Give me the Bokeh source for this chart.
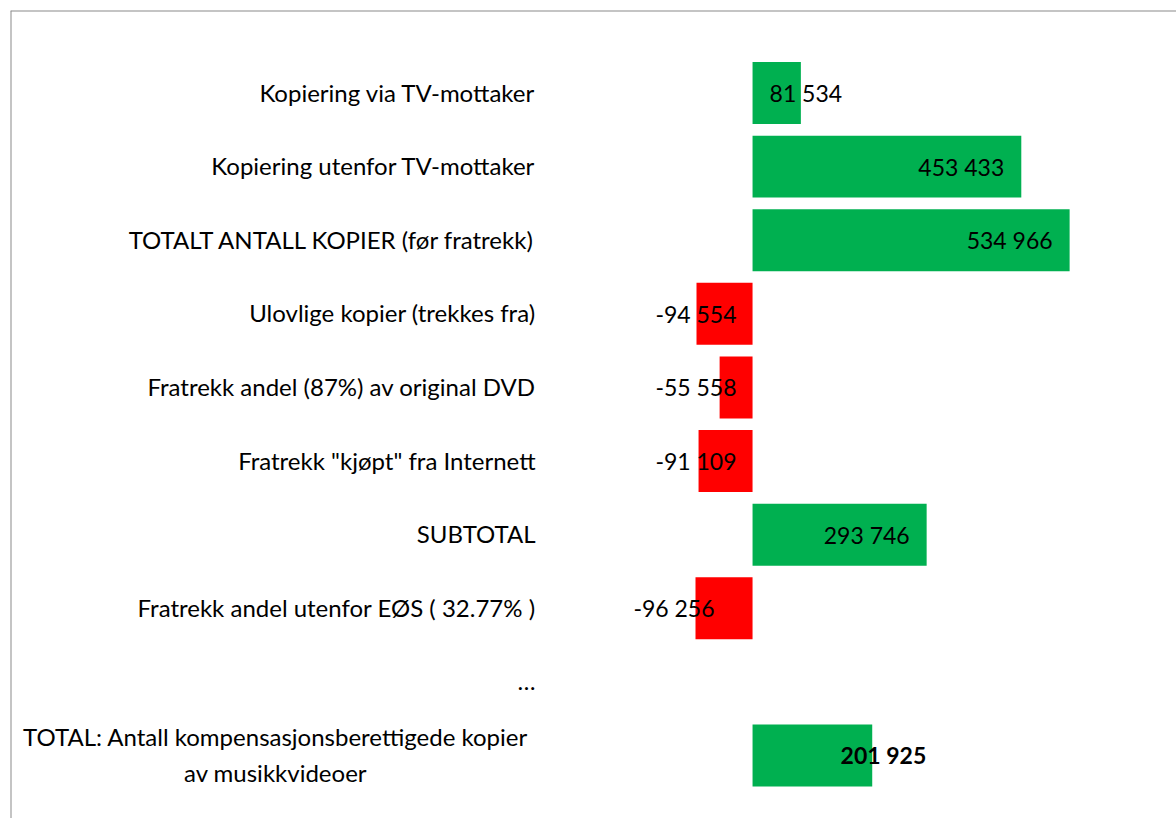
from bokeh.plotting import figure
from bokeh.models import ColumnDataSource, Range1d, Span
from bokeh.core.properties import value
from bokeh.embed import file_html
from bokeh.resources import INLINE

# ---- data ----
categories = [
    "Kopiering via TV-mottaker",
    "Kopiering utenfor TV-mottaker",
    "TOTALT ANTALL KOPIER (før fratrekk)",
    "Ulovlige kopier (trekkes fra)",
    "Fratrekk andel (87%) av original DVD",
    'Fratrekk "kjøpt" fra Internett',
    "SUBTOTAL",
    "Fratrekk andel utenfor EØS ( 32.77% )",
    "…",
    "TOTAL: Antall kompensasjonsberettigede kopier\nav musikkvideoer",
]
values = [81534, 453433, 534966, -94554, -55558, -91109, 293746, -96256, None, 201925]

# ---- styles ----
GREEN = "#00B050"
RED = "#FF0000"
BORDER = "#898989"
FONT = value("Lato")
FS_CAT = "24px"
FS_VAL = "23px"
X_START, X_END = -1252000, 715300
Y_BOTTOM, Y_TOP = 9.856, -1.121

def fmt(v):
    s = f"{abs(v):,}".replace(",", " ")
    return ("-" + s) if v < 0 else s

# label placement style per row: (anchor, align, pixel offset)
label_style = {
    0: ("zero", "left", 17),
    1: ("value", "right", -17),
    2: ("value", "right", -17),
    3: ("zero", "right", -16),
    4: ("zero", "right", -16),
    5: ("zero", "right", -16),
    6: ("value", "right", -17),
    7: ("zero", "right", -38),
    9: ("value", "right", 54),
}

p = figure(width=1176, height=818,
           x_range=Range1d(X_START, X_END),
           y_range=Range1d(Y_BOTTOM, Y_TOP),
           x_axis_type=None, y_axis_type=None,
           output_backend="svg", toolbar_location=None,
           min_border_left=10, min_border_top=10,
           min_border_right=0, min_border_bottom=0)
p.grid.visible = False
p.outline_line_color = None
p.background_fill_color = "white"
p.border_fill_color = "white"

# chart-area border (left and top edges only are visible)
p.add_layout(Span(location=X_START, dimension="height", line_color=BORDER, line_width=2))
p.add_layout(Span(location=Y_TOP, dimension="width", line_color=BORDER, line_width=2))

rows = [i for i, v in enumerate(values) if v is not None]
bar_src = ColumnDataSource(dict(
    y=rows,
    v=[values[i] for i in rows],
    c=[GREEN if values[i] >= 0 else RED for i in rows],
))
p.hbar(y="y", left=0, right="v", height=0.842, fill_color="c",
       line_color=None, source=bar_src)

# category labels
single = [i for i, c in enumerate(categories) if "\n" not in c]
multi = [i for i, c in enumerate(categories) if "\n" in c]
p.text(x=[0] * len(single), y=single, text=[categories[i] for i in single],
       x_offset=-217, y_offset=-1, text_align="right", text_baseline="middle",
       text_font=FONT, text_font_size=FS_CAT, text_color="black")
p.text(x=[0] * len(multi), y=multi, text=[categories[i] for i in multi],
       x_offset=-477, y_offset=-1, text_align="center", text_baseline="middle",
       text_font=FONT, text_font_size=FS_CAT, text_color="black",
       text_line_height=1.25)

# value labels
groups = {}
for i in rows:
    anchor, align, off = label_style[i]
    bold = (i == len(values) - 1)
    key = (align, off, bold)
    groups.setdefault(key, {"x": [], "y": [], "t": []})
    groups[key]["x"].append(0 if anchor == "zero" else values[i])
    groups[key]["y"].append(i)
    groups[key]["t"].append(fmt(values[i]))

for (align, off, bold), d in groups.items():
    p.text(x=d["x"], y=d["y"], text=d["t"], x_offset=off,
           text_align=align, text_baseline="middle",
           text_font=FONT, text_font_size=FS_VAL, text_color="black",
           text_font_style="bold" if bold else "normal")

open("out.html", "w").write(file_html(p, INLINE))
